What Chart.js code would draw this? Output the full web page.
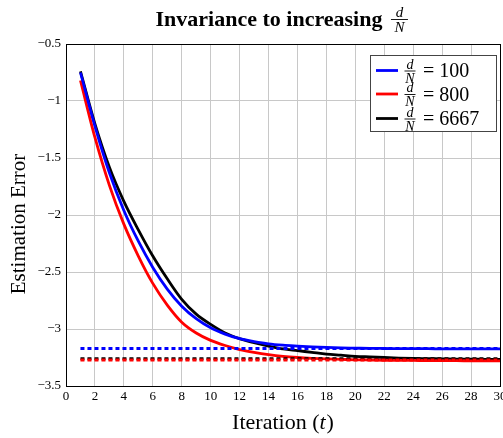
<!DOCTYPE html>
<html lang="en">
<head>
  <meta charset="UTF-8" />
  <title>Invariance to increasing d/N</title>
  <script src="https://cdn.jsdelivr.net/npm/chart.js"></script>
  <style>
    body { margin: 0; background: #fff; }
    canvas { display: block; }
  </style>
</head>
<body>
  <canvas id="errChart" width="503" height="438"></canvas>

  <script>
    // values
    const iterations = [1, 2, 3, 4, 5, 6, 7, 8, 9, 10, 11, 12, 13, 14, 15, 16, 17, 18, 19, 20, 21, 22, 23, 24, 25, 26, 27, 28, 29, 30];
    const err100 = [-0.75, -1.22, -1.63, -1.96, -2.23, -2.46, -2.65, -2.80, -2.91, -2.99, -3.045, -3.085, -3.11, -3.13, -3.142, -3.15, -3.157, -3.162, -3.166, -3.168, -3.17, -3.171, -3.172, -3.173, -3.173, -3.174, -3.174, -3.175, -3.175, -3.175];
    const err800 = [-0.82, -1.32, -1.74, -2.08, -2.36, -2.60, -2.79, -2.94, -3.035, -3.10, -3.145, -3.18, -3.205, -3.225, -3.24, -3.25, -3.257, -3.262, -3.266, -3.27, -3.272, -3.274, -3.275, -3.276, -3.277, -3.278, -3.278, -3.279, -3.279, -3.28];
    const err6667 = [-0.74, -1.20, -1.58, -1.88, -2.13, -2.36, -2.56, -2.74, -2.87, -2.96, -3.035, -3.085, -3.12, -3.15, -3.175, -3.19, -3.205, -3.22, -3.23, -3.24, -3.245, -3.25, -3.255, -3.258, -3.26, -3.262, -3.264, -3.265, -3.266, -3.267];
    // dotted reference levels
    const floor100 = -3.17;
    const floor800 = -3.272;
    const floor6667 = -3.262;
    const ratioLabels = ["100", "800", "6667"];
    const seriesColors = ["#0000ff", "#ff0000", "#000000"];

    const SERIF = '"Liberation Serif", "DejaVu Serif", serif';

    const toPoints = vals => vals.map((v, i) => ({ x: iterations[i], y: v }));
    const flat = level => [{ x: iterations[0], y: level }, { x: iterations[iterations.length - 1], y: level }];

    // d over N, centred on x, bar at y
    function drawFrac(ctx, x, y, size, w) {
      ctx.save();
      ctx.fillStyle = "#000";
      ctx.textAlign = "center";
      ctx.font = "italic " + size + "px " + SERIF;
      ctx.textBaseline = "alphabetic";
      ctx.fillText("d", x, y - 2);
      ctx.textBaseline = "top";
      ctx.fillText("N", x, y + 1.5);
      ctx.strokeStyle = "#000";
      ctx.lineWidth = 0.9;
      ctx.beginPath();
      ctx.moveTo(x - w / 2, y + 0.5);
      ctx.lineTo(x + w / 2, y + 0.5);
      ctx.stroke();
      ctx.restore();
    }

    const decorations = {
      id: "decorations",
      afterDraw(chart) {
        const ctx = chart.ctx;
        const a = chart.chartArea;
        ctx.save();

        // frame
        ctx.strokeStyle = "#000";
        ctx.lineWidth = 1;
        ctx.strokeRect(Math.round(a.left) + 0.5, Math.round(a.top) + 0.5, Math.round(a.right - a.left), Math.round(a.bottom - a.top));

        // title
        ctx.fillStyle = "#000";
        ctx.font = "bold 22px " + SERIF;
        ctx.textBaseline = "alphabetic";
        ctx.textAlign = "left";
        const t = "Invariance to increasing";
        const tw = ctx.measureText(t).width;
        const total = tw + 26;
        const tx = 282 - total / 2;
        ctx.fillText(t, tx, 26);
        drawFrac(ctx, tx + tw + 17, 19, 15, 17);

        // axis titles
        ctx.font = "21px " + SERIF;
        ctx.save();
        ctx.translate(25, 224);
        ctx.rotate(-Math.PI / 2);
        ctx.textAlign = "center";
        ctx.fillText("Estimation Error", 0, 0);
        ctx.restore();

        const fs = 22;
        const p1 = "Iteration (", p2 = "t", p3 = ")";
        ctx.font = fs + "px " + SERIF;
        const w1 = ctx.measureText(p1).width, w3 = ctx.measureText(p3).width;
        ctx.font = "italic " + fs + "px " + SERIF;
        const w2 = ctx.measureText(p2).width + 1;
        let x0 = 283 - (w1 + w2 + w3) / 2;
        ctx.font = fs + "px " + SERIF;
        ctx.fillText(p1, x0, 429);
        ctx.font = "italic " + fs + "px " + SERIF;
        ctx.fillText(p2, x0 + w1, 429);
        ctx.font = fs + "px " + SERIF;
        ctx.fillText(p3, x0 + w1 + w2, 429);

        // legend
        const lx = 370.5, ly = 55.5, lw = 126, lh = 76;
        ctx.fillStyle = "#fff";
        ctx.fillRect(lx, ly, lw, lh);
        ctx.strokeStyle = "#444";
        ctx.lineWidth = 1;
        ctx.strokeRect(lx, ly, lw, lh);
        const rows = [70.5, 94, 118.5];
        rows.forEach((ry, i) => {
          ctx.strokeStyle = seriesColors[i];
          ctx.lineWidth = 2.8;
          ctx.beginPath();
          ctx.moveTo(376, ry);
          ctx.lineTo(398, ry);
          ctx.stroke();
          drawFrac(ctx, 410, ry, 14, 11);
          ctx.fillStyle = "#000";
          ctx.font = "20px " + SERIF;
          ctx.textAlign = "left";
          ctx.textBaseline = "alphabetic";
          ctx.fillText("= " + ratioLabels[i], 423, ry + 6.5);
        });

        ctx.restore();
      }
    };

    const solid = (label, vals, color) => ({
      label, data: toPoints(vals), borderColor: color, borderWidth: 2.8,
      pointRadius: 0, cubicInterpolationMode: "monotone", fill: false
    });
    const dotted = (level, color) => ({
      data: flat(level), borderColor: color, borderWidth: 3,
      borderDash: [4, 3], pointRadius: 0, fill: false
    });

    new Chart(document.getElementById("errChart"), {
      type: "line",
      data: {
        datasets: [
          dotted(floor100, seriesColors[0]),
          dotted(floor800, seriesColors[1]),
          dotted(floor6667, seriesColors[2]),
          solid("d/N = 100", err100, seriesColors[0]),
          solid("d/N = 800", err800, seriesColors[1]),
          solid("d/N = 6667", err6667, seriesColors[2])
        ]
      },
      options: {
        responsive: false,
        animation: false,
        layout: { padding: { top: 44, right: 3, bottom: 0, left: 0 } },
        plugins: { legend: { display: false }, title: { display: false }, tooltip: { enabled: false } },
        scales: {
          x: {
            type: "linear", min: 0, max: 30,
            ticks: { stepSize: 2, color: "#000", font: { family: SERIF, size: 13 }, padding: 3, maxRotation: 0, autoSkip: false },
            grid: { color: "#c8c8c8", drawTicks: false },
            border: { color: "#000" },
            afterFit(s) { s.height = 52; s.paddingLeft = 0; s.paddingRight = 0; }
          },
          y: {
            min: -3.5, max: -0.5,
            ticks: {
              stepSize: 0.5, color: "#000", font: { family: SERIF, size: 13 }, padding: 5,
              callback: v => "\u2212" + Math.abs(v)
            },
            grid: { color: "#c8c8c8", drawTicks: false },
            border: { color: "#000" },
            afterFit(s) { s.width = 66; s.paddingTop = 0; s.paddingBottom = 0; }
          }
        }
      },
      plugins: [decorations]
    });
  </script>
</body>
</html>
